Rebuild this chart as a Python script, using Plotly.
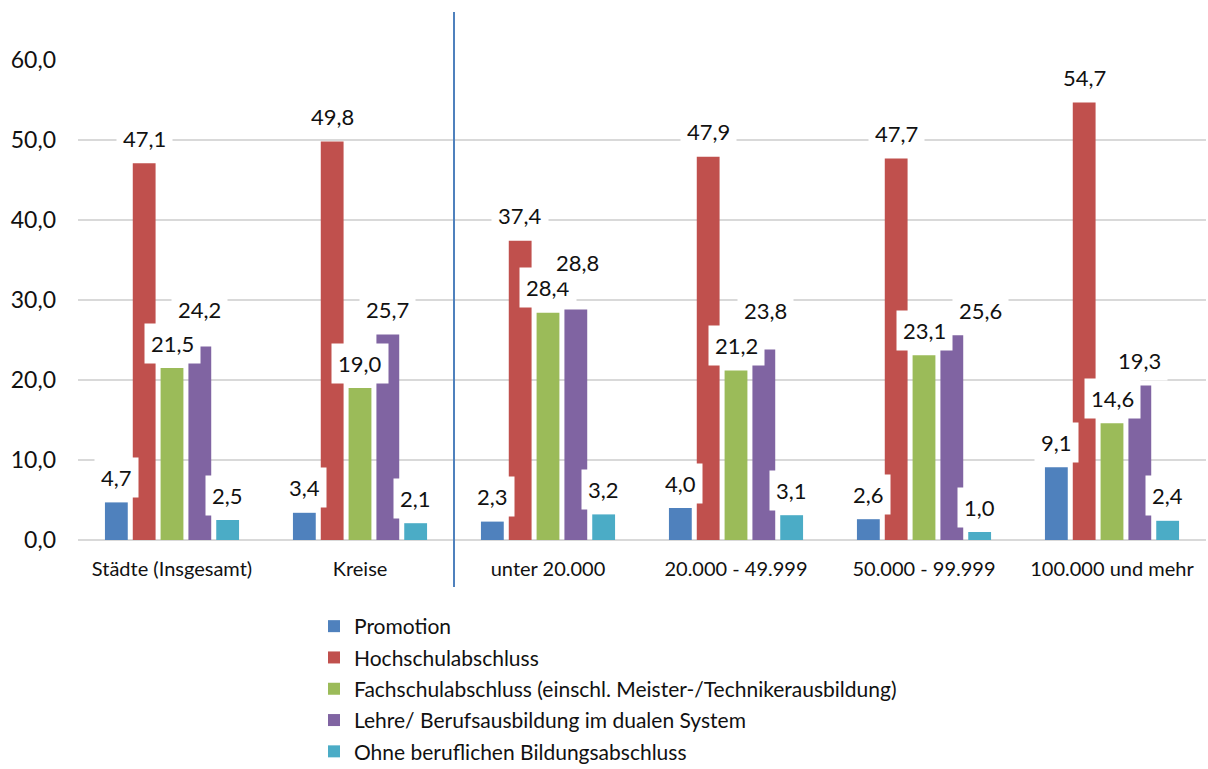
import plotly.graph_objects as go

categories = ["Städte (Insgesamt)", "Kreise", "unter 20.000", "20.000 - 49.999", "50.000 - 99.999", "100.000 und mehr"]
series_names = ["Promotion", "Hochschulabschluss", "Fachschulabschluss (einschl. Meister-/Technikerausbildung)",
                "Lehre/ Berufsausbildung im dualen System", "Ohne beruflichen Bildungsabschluss"]
promotion = [4.7, 3.4, 2.3, 4.0, 2.6, 9.1]
hochschul = [47.1, 49.8, 37.4, 47.9, 47.7, 54.7]
fachschul = [21.5, 19.0, 28.4, 21.2, 23.1, 14.6]
lehre = [24.2, 25.7, 28.8, 23.8, 25.6, 19.3]
ohne = [2.5, 2.1, 3.2, 3.1, 1.0, 2.4]
colors = ["#4F81BD", "#C0504D", "#9BBB59", "#8064A2", "#4BACC6"]
y_ticks = [0, 10, 20, 30, 40, 50, 60]

# manual label nudges (series index, category index) -> (dx px, dy px), as in the original
label_nudge = {(3, 0): (0, 12), (3, 2): (2, 22), (3, 3): (2, 14), (3, 4): (29, 0)}

series = [promotion, hochschul, fachschul, lehre, ohne]

W, H = 1208, 769
ml, mr, mt, mb = 78, 2, 60, 229
plot_w = W - ml - mr
plot_h = H - mt - mb
bargap, bargroupgap = 0.26, 0.18
cat_px = plot_w / len(categories)
slot = cat_px * (1 - bargap) / len(series)

FONT = "Lato"
fig = go.Figure()
for k, (name, vals, col) in enumerate(zip(series_names, series, colors)):
    fig.add_trace(go.Bar(name=name, x=categories, y=vals, marker_color=col,
                         marker_line_width=0, hoverinfo="skip", legendgroup=f"g{k}"))

annotations = []
for i, vals in enumerate(series):
    for j, (c, v) in enumerate(zip(categories, vals)):
        dx, dy = label_nudge.get((i, j), (0, 0))
        annotations.append(dict(
            x=c, y=v, xref="x", yref="y", text=f"{v:.1f}".replace(".", ","),
            showarrow=False, xanchor="center", yanchor="middle",
            xshift=(i - 2) * slot + dx, yshift=25 + dy, bgcolor="white", borderpad=6,
            font=dict(family=FONT, size=22, color="#111")))

fig.add_shape(type="line", xref="x", yref="paper", x0=1.5, x1=1.5,
              y0=-47 / plot_h, y1=1 + 48 / plot_h, line=dict(color="#4F81BD", width=2))

fig.update_layout(
    width=W, height=H, margin=dict(l=ml, r=mr, t=mt, b=mb, autoexpand=False),
    paper_bgcolor="white", plot_bgcolor="white",
    barmode="group", bargap=bargap, bargroupgap=bargroupgap,
    separators=",.",
    font=dict(family=FONT, size=20, color="#111"),
    annotations=annotations,
    showlegend=True,
    legend=dict(orientation="v", x=(314 - ml) / plot_w, y=-(606 - mt - plot_h) / plot_h,
                xanchor="left", yanchor="top", font=dict(family=FONT, size=21, color="#111"),
                bgcolor="rgba(0,0,0,0)", traceorder="grouped", tracegroupgap=1),
    xaxis=dict(range=[-0.5, 5.5], showgrid=False, showline=False, ticks="",
               ticklabelstandoff=15,
               tickfont=dict(family=FONT, size=20, color="#111"), fixedrange=True),
    yaxis=dict(range=[0, 60], tickvals=y_ticks, tickformat=".1f", showgrid=True,
               gridcolor="#D9D9D9", gridwidth=1.5, zeroline=True, zerolinecolor="#D9D9D9",
               zerolinewidth=1.5, showline=False, ticks="", ticklabelstandoff=21,
               tickfont=dict(family=FONT, size=23, color="#111"), fixedrange=True),
)

fig.write_html("out.html", config={"displayModeBar": False},
               post_script="document.body.style.margin='0px';")
